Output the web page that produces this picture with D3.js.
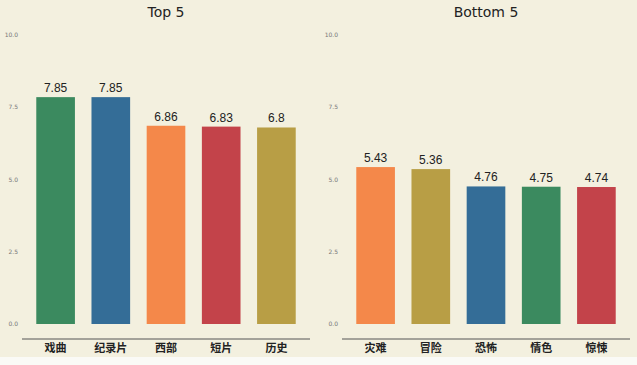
<!DOCTYPE html>
<html>
<head>
<meta charset="utf-8">
<script src="https://cdn.jsdelivr.net/npm/d3@7"></script>
<style>
  body { margin: 0; background: #fafaf6; }
  svg { display: block; }
</style>
</head>
<body>
<script>
var width = 637, height = 365;

// data
var topNames = ["戏曲", "纪录片", "西部", "短片", "历史"];
var topValues = [7.85, 7.85, 6.86, 6.83, 6.8];
var topColors = ["#3b8a5f", "#346d97", "#f4884a", "#c3434a", "#b89e45"];

var bottomNames = ["灾难", "冒险", "恐怖", "情色", "惊悚"];
var bottomValues = [5.43, 5.36, 4.76, 4.75, 4.74];
var bottomColors = ["#f4884a", "#b89e45", "#346d97", "#3b8a5f", "#c3434a"];

var yTicks = [0, 2.5, 5, 7.5, 10];

var svg = d3.select("body").append("svg")
    .attr("width", width)
    .attr("height", height);

// cream background for the chart area
svg.append("rect")
    .attr("width", width)
    .attr("height", 357)
    .attr("fill", "#f3f0df");

var y = d3.scaleLinear().domain([0, 10]).range([324, 35]);

function panel(title, names, values, colors, x0, x1, tickX) {
    var g = svg.append("g");

    var x = d3.scaleBand()
        .domain(names)
        .range([x0, x1])
        .paddingInner(0.3)
        .paddingOuter(0.15);

    // y tick labels only
    g.selectAll("text.tick")
        .data(yTicks)
        .enter().append("text")
        .attr("class", "tick")
        .attr("x", tickX)
        .attr("y", function(d) { return y(d); })
        .attr("dy", "0.35em")
        .attr("text-anchor", "end")
        .attr("font-family", "DejaVu Sans, sans-serif")
        .attr("font-size", 6)
        .attr("fill", "#777")
        .text(function(d) { return d3.format(".1f")(d); });

    g.selectAll("rect")
        .data(values)
        .enter().append("rect")
        .attr("x", function(d, i) { return x(names[i]); })
        .attr("y", function(d) { return y(d); })
        .attr("width", x.bandwidth())
        .attr("height", function(d) { return y(0) - y(d); })
        .attr("fill", function(d, i) { return colors[i]; });

    g.selectAll("text.val")
        .data(values)
        .enter().append("text")
        .attr("class", "val")
        .attr("x", function(d, i) { return x(names[i]) + x.bandwidth() / 2; })
        .attr("y", function(d) { return y(d) - 5; })
        .attr("text-anchor", "middle")
        .attr("font-family", "Liberation Sans, Arial, sans-serif")
        .attr("font-size", 12)
        .attr("fill", "#222")
        .text(function(d) { return d; });

    // x axis line and category labels
    g.append("line")
        .attr("x1", x0 - 6).attr("x2", x1 + 6)
        .attr("y1", 339).attr("y2", 339)
        .attr("stroke", "#555")
        .attr("stroke-width", 1);

    g.selectAll("text.cat")
        .data(names)
        .enter().append("text")
        .attr("class", "cat")
        .attr("x", function(d) { return x(d) + x.bandwidth() / 2; })
        .attr("y", 352)
        .attr("text-anchor", "middle")
        .attr("font-family", "Noto Sans CJK SC, sans-serif")
        .attr("font-size", 11)
        .attr("font-weight", "bold")
        .attr("fill", "#222")
        .text(function(d) { return d; });

    g.append("text")
        .attr("x", (x0 + x1) / 2)
        .attr("y", 17)
        .attr("text-anchor", "middle")
        .attr("font-family", "DejaVu Sans, sans-serif")
        .attr("font-size", 14)
        .attr("fill", "#222")
        .text(title);
}

panel("Top 5", topNames, topValues, topColors, 28, 304, 18);
panel("Bottom 5", bottomNames, bottomValues, bottomColors, 348, 624, 338);
</script>
</body>
</html>
